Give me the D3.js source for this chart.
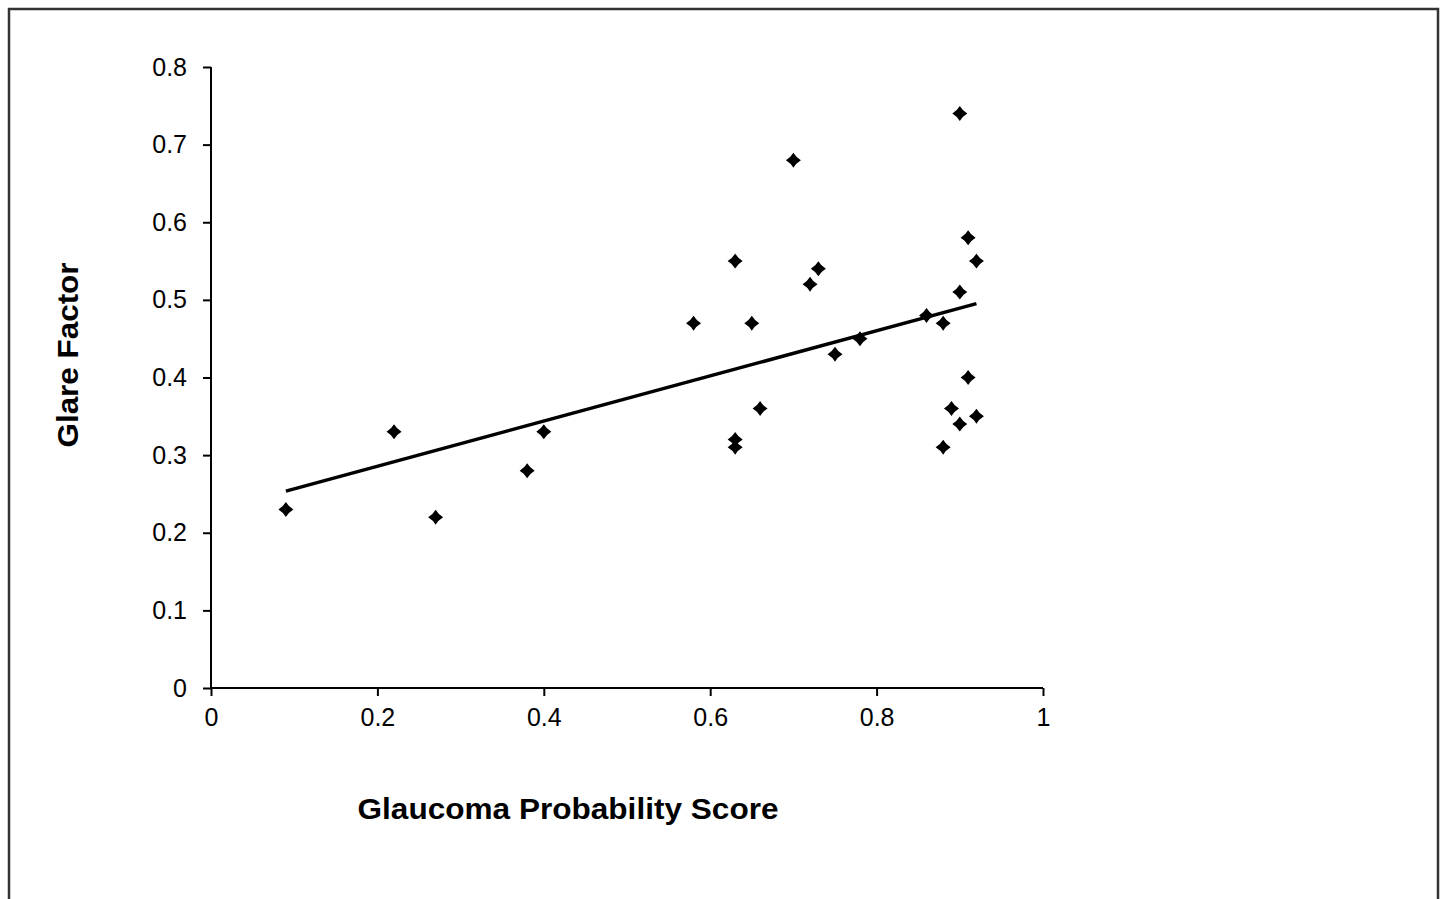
<!DOCTYPE html>
<html>
<head>
<meta charset="utf-8">
<script src="https://cdn.jsdelivr.net/npm/d3@7"></script>
<style>
  html, body { margin: 0; padding: 0; background: #fff; }
  svg { display: block; }
  text { font-family: "Liberation Sans", Arial, sans-serif; fill: #000; }
</style>
</head>
<body>
<svg id="chart" width="1443" height="899"></svg>
<script>
// Data
const gpsScore = [0.09, 0.22, 0.27, 0.38, 0.40, 0.58, 0.63, 0.63, 0.63, 0.65, 0.66, 0.70, 0.72, 0.73, 0.75, 0.78, 0.86, 0.88, 0.88, 0.89, 0.90, 0.90, 0.90, 0.91, 0.91, 0.92, 0.92];
const glareFactor = [0.23, 0.33, 0.22, 0.28, 0.33, 0.47, 0.55, 0.32, 0.31, 0.47, 0.36, 0.68, 0.52, 0.54, 0.43, 0.45, 0.48, 0.47, 0.31, 0.36, 0.74, 0.51, 0.34, 0.58, 0.40, 0.55, 0.35];
const xTicks = [0, 0.2, 0.4, 0.6, 0.8, 1];
const yTicks = [0, 0.1, 0.2, 0.3, 0.4, 0.5, 0.6, 0.7, 0.8];
const xTitle = "Glaucoma Probability Score";
const yTitle = "Glare Factor";

const svg = d3.select("#chart");

// outer frame
svg.append("rect")
  .attr("x", 9).attr("y", 9).attr("width", 1429).attr("height", 930)
  .attr("fill", "none").attr("stroke", "#333").attr("stroke-width", 2.5);

const x = d3.scaleLinear().domain([0, 1]).range([211, 1043]);
const y = d3.scaleLinear().domain([0, 0.8]).range([688, 67]);

// axes
const xAxis = d3.axisBottom(x).tickValues(xTicks).tickSize(8).tickPadding(12)
  .tickFormat(d => d3.format("")(+d.toFixed(1)));
const yAxis = d3.axisLeft(y).tickValues(yTicks).tickSize(8).tickPadding(16)
  .tickFormat(d => d3.format("")(+d.toFixed(1)));

const gx = svg.append("g").attr("transform", `translate(0,${y(0)})`).call(xAxis);
const gy = svg.append("g").attr("transform", `translate(${x(0)},0)`).call(yAxis);

[gx, gy].forEach(g => {
  g.select(".domain").attr("stroke", "#000").attr("stroke-width", 2);
  g.selectAll(".tick line").attr("stroke", "#000").attr("stroke-width", 2);
  g.selectAll(".tick text")
    .style("font-family", '"Liberation Sans", Arial, sans-serif')
    .style("font-size", "25px").attr("fill", "#000");
});
gx.select(".domain").attr("d", `M${x(0)},0H${x(1)}`);
gy.select(".domain").attr("d", `M0,${y(0.8)}V${y(0)}`);

// regression line computed from data
const n = gpsScore.length;
const mx = d3.mean(gpsScore), my = d3.mean(glareFactor);
let sxy = 0, sxx = 0;
for (let i = 0; i < n; i++) {
  sxy += (gpsScore[i] - mx) * (glareFactor[i] - my);
  sxx += (gpsScore[i] - mx) ** 2;
}
const slope = sxy / sxx, intercept = my - slope * mx;
const [x0, x1] = d3.extent(gpsScore);
svg.append("path")
  .datum([x0, x1])
  .attr("d", d3.line().x(d => x(d)).y(d => y(intercept + slope * d)))
  .attr("stroke", "#000").attr("stroke-width", 3.5).attr("fill", "none");

// diamond markers
const pts = gpsScore.map((v, i) => ({ gx: v, gy: glareFactor[i] }));
const r = 7.5, c = 2.8;
svg.append("g").selectAll("path").data(pts).enter().append("path")
  .attr("transform", d => `translate(${x(d.gx)},${y(d.gy)})`)
  .attr("d", `M0,${-r} Q${c},${-c} ${r},0 Q${c},${c} 0,${r} Q${-c},${c} ${-r},0 Q${-c},${-c} 0,${-r}Z`)
  .attr("fill", "#000");

// titles
svg.append("text")
  .attr("x", 568).attr("y", 819)
  .attr("text-anchor", "middle")
  .style("font-size", "30px").style("font-weight", "bold")
  .attr("textLength", 421).attr("lengthAdjust", "spacingAndGlyphs")
  .text(xTitle);

svg.append("text")
  .attr("transform", "translate(78,355) rotate(-90)")
  .attr("text-anchor", "middle")
  .style("font-size", "30px").style("font-weight", "bold")
  .attr("textLength", 185).attr("lengthAdjust", "spacingAndGlyphs")
  .text(yTitle);
</script>
</body>
</html>
